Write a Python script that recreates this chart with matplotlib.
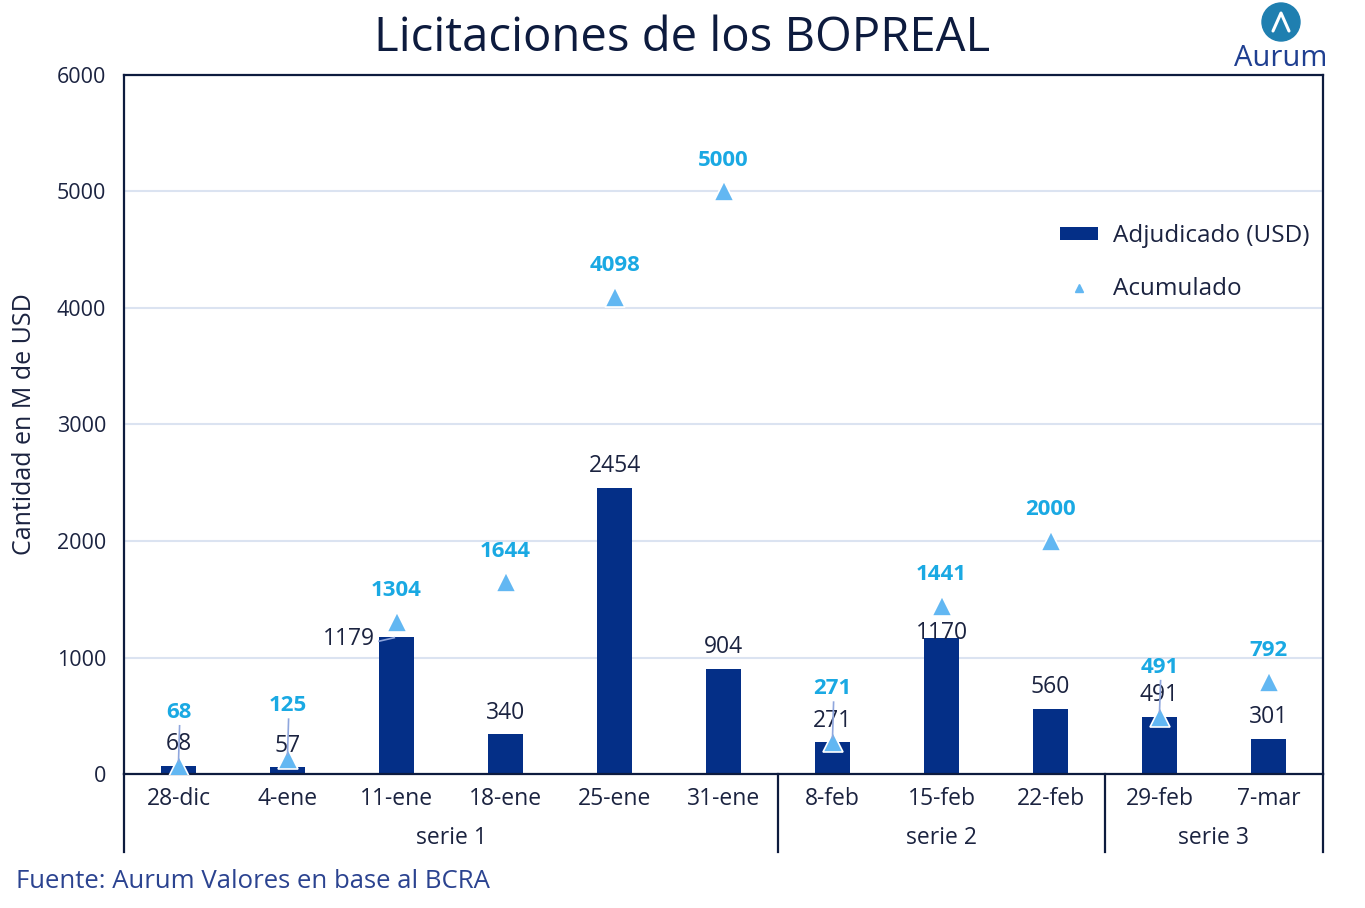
import numpy as np
import matplotlib.pyplot as plt
from matplotlib.patches import Circle

plt.rcParams['font.family'] = ['Open Sans', 'DejaVu Sans']

fechas = ["28-dic", "4-ene", "11-ene", "18-ene", "25-ene", "31-ene",
          "8-feb", "15-feb", "22-feb", "29-feb", "7-mar"]
adjudicado = [68, 57, 1179, 340, 2454, 904, 271, 1170, 560, 491, 301]
acumulado = [68, 125, 1304, 1644, 4098, 5000, 271, 1441, 2000, 491, 792]
series = ["serie 1", "serie 2", "serie 3"]
serie_tam = [6, 3, 2]

navy = "#042f87"
tri_c = "#62b7f2"
cyan = "#1aa9e3"
txt = "#1b2340"

fig = plt.figure(figsize=(13.65, 9.08), dpi=100)
ax = fig.add_axes([124/1365, 1-774/908, 1199/1365, 699/908])

x = np.arange(len(fechas))
barras = ax.bar(x, adjudicado, width=0.32, color=navy, zorder=2)
ax.plot(x, acumulado, ls="none", marker="^", ms=14, color=tri_c,
        mec="white", mew=1.2, zorder=3)

ax.set_xlim(-0.5, len(fechas)-0.5)
ax.set_ylim(0, 6000)
ax.set_yticks(range(0, 6001, 1000))
ax.tick_params(axis="y", length=0, labelsize=15.5, labelcolor=txt, pad=13)
ax.set_xticks([])
ax.grid(axis="y", color="#dbe3f1", lw=1.5, zorder=0)
ax.set_axisbelow(True)
for s in ax.spines.values():
    s.set_color("#0d1b3e")
    s.set_linewidth(1.6)
ax.set_ylabel("Cantidad en M de USD", fontsize=18, color=txt, labelpad=14)

# etiquetas de barras (desplazamientos en puntos)
bar_off = {2: (-34, -17), 7: (0, -12)}
for i, v in enumerate(adjudicado):
    dx, dy = bar_off.get(i, (0, 0))
    ax.annotate(str(v), (i, v), xytext=(dx, 7 + dy), textcoords="offset points",
                ha="center", va="bottom", fontsize=16.5, color=txt, zorder=4)
ax.plot([2 - 0.16, 2 - 0.02], [1140, 1170], color="#8fa6dd", lw=1.2, zorder=4)

# etiquetas del acumulado
pt2data = (100 / 72) * 6000 / 699
acu_up = {0: 16, 1: 16, 6: 16, 9: 13}
for i, v in enumerate(acumulado):
    dy = acu_up.get(i, 0)
    ax.annotate(str(v), (i, v), xytext=(0, 15 + dy), textcoords="offset points",
                ha="center", va="bottom", fontsize=16, color=cyan,
                fontweight="bold", zorder=4)
    if dy:
        ax.plot([i, i + 0.01], [v + 40, v + (13 + dy) * pt2data],
                color="#8fa6dd", lw=1.2, zorder=5)

# eje de categorias en dos niveles
tr = ax.get_xaxis_transform()
for i, f in enumerate(fechas):
    ax.text(i, -0.036, f, transform=tr, ha="center", va="center",
            fontsize=16.5, color=txt)
start = 0
bounds = [-0.5]
for nombre, n in zip(series, serie_tam):
    ax.text(start + (n - 1) / 2, -0.092, nombre, transform=tr, ha="center",
            va="center", fontsize=16.5, color=txt)
    start += n
    bounds.append(start - 0.5)
for b in bounds:
    ax.plot([b, b], [0, -0.112], transform=tr, color="#0d1b3e", lw=1.6,
            clip_on=False)

tri_h, = ax.plot([], [], ls="none", marker="^", ms=6, color=tri_c)
leg = ax.legend([barras, tri_h], ["Adjudicado (USD)", "Acumulado"],
                loc="upper right", bbox_to_anchor=(1.007, 0.818), frameon=False,
                fontsize=17.5, handlelength=1.6, handleheight=0.45,
                handletextpad=0.6, labelspacing=1.2, labelcolor=txt)

fig.text(682/1365, 1-38/908, "Licitaciones de los BOPREAL", ha="center",
         va="center", fontsize=34, color="#0d1b3e")
fig.text(16/1365, 1-882/908, "Fuente: Aurum Valores en base al BCRA",
         ha="left", va="center", fontsize=18.5, color="#2b4390")

# logo
lax = fig.add_axes([1230/1365, 1-78/908, 102/1365, 78/908])
lax.set_xlim(0, 102)
lax.set_ylim(78, 0)
lax.set_aspect("equal")
lax.axis("off")
lax.add_patch(Circle((51, 22), 19, color="#1f7fb0"))
lax.plot([43, 51, 59], [31, 13, 31], color="white", lw=2.2, solid_capstyle="round")
lax.text(51, 58, "Aurum", ha="center", va="center", fontsize=21, color="#1f3f91")

fig.savefig("out.png", dpi=100)
